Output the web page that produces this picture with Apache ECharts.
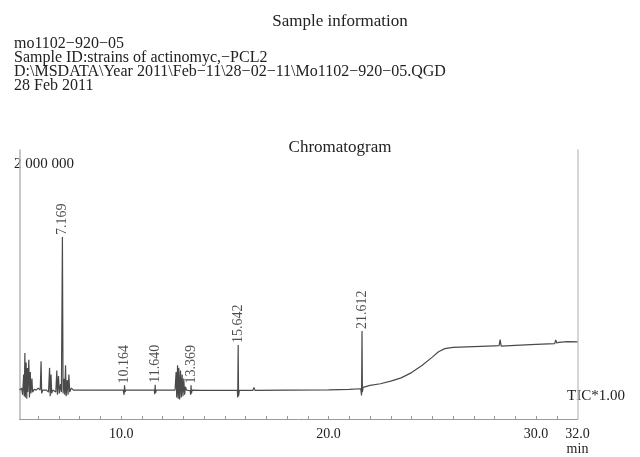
<!DOCTYPE html>
<html lang="en">

<head>
  <meta charset="UTF-8">
  <title>Chromatogram</title>
  <style>
    html, body { margin: 0; padding: 0; background: #fff; }
  </style>
</head>

<body>

  <div id="main" style="width: 640px; height: 457px;"></div>
  <script src="https://cdn.jsdelivr.net/npm/echarts@6/dist/echarts.min.js"></script>
  <script type="text/javascript">
    // sample header text
    var infoLines = [
      'mo1102−920−05',
      'Sample ID:strains of actinomyc,−PCL2',
      'D:\\MSDATA\\Year 2011\\Feb−11\\28−02−11\\Mo1102−920−05.QGD',
      '28 Feb 2011'
    ];

    // retention time (min) and TIC intensity (counts)
    var times = [
      5.10, 5.20, 5.25, 5.30, 5.33, 5.36, 5.38, 5.42, 5.45, 5.48, 5.50, 5.55, 5.58, 5.62, 5.65, 5.70, 5.73, 5.80, 5.90,
      6.00, 6.10, 6.14, 6.17, 6.22, 6.40, 6.50, 6.55, 6.58, 6.62, 6.65, 6.70, 6.85, 6.90, 6.93, 6.98, 7.02, 7.08, 7.12,
      7.169, 7.20, 7.25, 7.28, 7.32, 7.35, 7.40, 7.44, 7.48, 7.52, 7.60, 7.70,
      8.75, 8.82, 8.88, 9.50, 9.55, 9.60,
      10.10, 10.14, 10.164, 10.19, 10.22,
      11.60, 11.62, 11.64, 11.66, 11.70,
      12.60, 12.65, 12.68, 12.72, 12.75, 12.78, 12.82, 12.86, 12.90, 12.94, 12.98, 13.02, 13.06, 13.10, 13.15,
      13.33, 13.35, 13.369, 13.39, 13.42,
      13.90, 13.95, 14.00,
      15.60, 15.62, 15.642, 15.66, 15.70,
      16.35, 16.40, 16.45, 18.0, 20.0, 21.0,
      21.55, 21.59, 21.612, 21.63, 21.66,
      22.0, 22.5, 23.0, 23.5, 24.0, 24.5, 25.0, 25.3, 25.6, 26.0, 27.0, 28.0,
      28.22, 28.27, 28.32, 29.0, 30.0, 30.9, 30.95, 31.0, 31.1, 31.5, 32.0
    ];
    var intensity = [
      215000, 230000, 180000, 330000, 170000, 490000, 160000, 420000, 150000, 380000, 200000, 440000, 160000, 350000, 190000, 300000, 200000, 220000, 215000,
      230000, 215000, 430000, 190000, 215000, 215000, 200000, 380000, 170000, 330000, 190000, 215000, 200000, 360000, 180000, 320000, 190000, 260000, 200000,
      1353000, 190000, 300000, 180000, 400000, 170000, 290000, 180000, 330000, 200000, 230000, 215000,
      214000, 228000, 214000, 214000, 222000, 214000,
      215000, 180000, 250000, 200000, 215000,
      215000, 185000, 255000, 195000, 215000,
      215000, 350000, 160000, 400000, 150000, 380000, 145000, 360000, 160000, 330000, 170000, 300000, 180000, 240000, 215000,
      210000, 180000, 250000, 190000, 215000,
      213000, 225000, 213000,
      213000, 160000, 551000, 170000, 213000,
      213000, 235000, 213000, 214000, 216000, 220000,
      225000, 175000, 654000, 200000, 235000,
      250000, 262000, 282000, 306000, 345000, 398000, 460000, 500000, 523000, 532000, 538000, 544000,
      545000, 590000, 542000, 548000, 555000, 560000, 588000, 565000, 570000, 575000, 574000
    ];

    // labelled peaks
    var peakTimes = [7.169, 10.164, 11.640, 13.369, 15.642, 21.612];
    var peakHeights = [1353000, 250000, 255000, 250000, 551000, 654000];
    var peakLabels = ['7.169', '10.164', '11.640', '13.369', '15.642', '21.612'];

    // x axis labels
    var xLabelValues = [10, 20, 30, 32];
    var xLabelTexts = ['10.0', '20.0', '30.0', '32.0\nmin'];
    var xTickValues = [6, 7, 8, 9, 10, 11, 12, 13, 14, 15, 16, 17, 18, 19, 20, 21, 22, 23, 24, 25, 26, 27, 28, 29, 30, 31];

    var serif = '"Liberation Serif", "DejaVu Serif", serif';
    var ink = '#222';

    var myChart = echarts.init(document.getElementById('main'));

    var trace = times.map(function (t, i) { return [t, intensity[i]]; });
    var peaks = peakTimes.map(function (t, i) { return [t, peakHeights[i]]; });

    option = {
      animation: false,
      textStyle: { fontFamily: serif },
      title: [
        {
          text: 'Sample information',
          left: 335,
          textAlign: 'center',
          top: 8,
          textStyle: { fontFamily: serif, fontSize: 17, fontWeight: 'normal', color: ink }
        },
        {
          text: infoLines.join('\n'),
          left: 9,
          top: 32,
          textStyle: { fontFamily: serif, fontSize: 16, lineHeight: 14, fontWeight: 'normal', color: ink }
        },
        {
          text: 'Chromatogram',
          left: 335,
          textAlign: 'center',
          top: 134,
          textStyle: { fontFamily: serif, fontSize: 17, fontWeight: 'normal', color: ink }
        }
      ],
      graphic: [
        {
          type: 'text',
          left: 14,
          top: 157,
          style: { text: '2 000 000', font: '15px ' + serif, fill: ink }
        },
        {
          type: 'text',
          left: 567,
          top: 389,
          style: { text: 'TIC*1.00', font: '15px ' + serif, fill: ink }
        }
      ],
      grid: { left: 19.5, right: 62.5, top: 150, bottom: 35 },
      xAxis: {
        type: 'value',
        min: 5.1,
        max: 32,
        axisLine: { lineStyle: { color: '#9a9a9a', width: 1 } },
        axisTick: { show: true, inside: true, length: 3, customValues: xTickValues, lineStyle: { color: '#9a9a9a' } },
        axisLabel: {
          customValues: xLabelValues,
          formatter: function (v) { return xLabelTexts[xLabelValues.indexOf(v)]; },
          fontFamily: serif, fontSize: 14, color: ink, margin: 8, lineHeight: 15
        },
        splitLine: { show: false }
      },
      yAxis: [
        {
          type: 'value',
          min: 0,
          max: 2000000,
          axisLine: { show: true, lineStyle: { color: '#b5b5b5', width: 1.5 } },
          axisTick: { show: false },
          axisLabel: { show: false },
          splitLine: { show: false }
        },
        {
          type: 'value',
          position: 'right',
          min: 0,
          max: 2000000,
          axisLine: { show: true, lineStyle: { color: '#c8c8c8', width: 1.5 } },
          axisTick: { show: false },
          axisLabel: { show: false },
          splitLine: { show: false }
        }
      ],
      series: [
        {
          name: 'TIC',
          type: 'line',
          data: trace,
          showSymbol: false,
          symbol: 'none',
          lineStyle: { color: '#4a4a4a', width: 1.2 },
          z: 3
        },
        {
          name: 'peaks',
          type: 'scatter',
          data: peaks,
          symbolSize: 0,
          label: {
            show: true,
            position: 'top',
            distance: 2,
            rotate: 90,
            align: 'left',
            verticalAlign: 'middle',
            fontFamily: serif,
            fontSize: 14,
            color: ink,
            formatter: function (p) { return peakLabels[p.dataIndex]; }
          }
        }
      ]
    };
    myChart.setOption(option);
  </script>
</body>

</html>
